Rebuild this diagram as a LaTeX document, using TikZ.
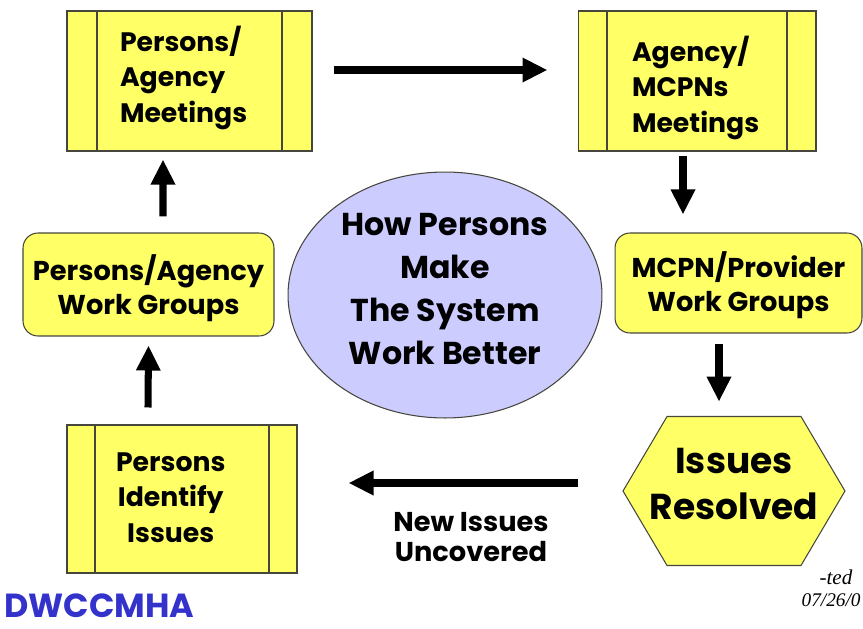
\documentclass[tikz,border=0pt]{standalone}
\usepackage{fontspec}
\setmainfont{Poppins}
\newfontfamily\notefont{Liberation Serif}
\usepackage{xcolor}
\usetikzlibrary{calc,arrows.meta,shapes.geometric}

\definecolor{boxyellow}{RGB}{255,255,102}
\definecolor{lavender}{RGB}{204,204,255}
\definecolor{edgegray}{RGB}{70,70,60}
\definecolor{dwblue}{RGB}{51,51,204}

% first baseline lifted by #1 above the node centre
\newcommand{\lifttext}[3]{\raisebox{#1}[0pt][0pt]{\parbox[t]{#2}{#3}}}

\tikzset{
	meetbox/.style={draw=edgegray, fill=boxyellow, line width=0.6pt, inner sep=0pt,
		font=\bfseries\fontsize{15.2}{20.3}\selectfont,
		path picture={\draw[edgegray, line width=0.6pt]
			([xshift=#1]path picture bounding box.north west) -- ([xshift=#1]path picture bounding box.south west)
			([xshift=-#1]path picture bounding box.north east) -- ([xshift=-#1]path picture bounding box.south east);}},
	meetbox/.default=0.58cm,
	groupbox/.style={draw=edgegray, fill=boxyellow, line width=0.6pt, rounded corners=0.3cm,
		inner sep=0pt, font=\bfseries\fontsize{15.5}{19.5}\selectfont},
	hexbox/.style={inner sep=0pt, font=\bfseries\fontsize{20.5}{26.5}\selectfont,
		path picture={\filldraw[fill=boxyellow, draw=edgegray, line width=0.6pt]
			([xshift=0.02cm]path picture bounding box.west) --
			([shift={(0.9cm,-0.02cm)}]path picture bounding box.north west) --
			([shift={(-0.9cm,-0.02cm)}]path picture bounding box.north east) --
			([xshift=-0.02cm]path picture bounding box.east) --
			([shift={(-0.9cm,0.02cm)}]path picture bounding box.south east) --
			([shift={(0.9cm,0.02cm)}]path picture bounding box.south west) -- cycle;}},
	bigarrow/.style={line width=4pt, -{Triangle[length=0.5cm,width=0.46cm]}},
}

\begin{document}
\begin{tikzpicture}[x=0.02cm,y=-0.02cm]
		\useasboundingbox (0,0) rectangle (863,629);
		
		% meetings and issues
		\node[meetbox=0.6cm, minimum width=4.9cm, minimum height=2.8cm] (pam) at (189.5,81) {\lifttext{0.6cm}{2.78cm}{\raggedright Persons/\\Agency\\Meetings}};
		\node[meetbox=0.58cm, minimum width=4.76cm, minimum height=2.8cm] (amm) at (697,81) {\lifttext{0.4cm}{2.6cm}{\raggedright Agency/\\MCPNs\\Meetings}};
		\node[meetbox=0.56cm, minimum width=4.6cm, minimum height=2.96cm] (pii) at (182,499) {\hspace*{-0.45cm}\lifttext{0.56cm}{2.4cm}{\centering Persons\\Identify\\Issues}};
		
		% work groups
		\node[groupbox, minimum width=5.02cm, minimum height=2.06cm] (pawg) at (148.5,284.5) {\lifttext{0.09cm}{4.8cm}{\centering Persons/Agency\\Work Groups}};
		\node[groupbox, minimum width=4.94cm, minimum height=2cm] (mpwg) at (738.5,283) {\lifttext{0.12cm}{4.8cm}{\centering MCPN/Provider\\Work Groups}};
		
		\node[hexbox, minimum width=4.48cm, minimum height=3.02cm] (res) at (734,491) {\lifttext{0.36cm}{4cm}{\centering Issues\\Resolved}};
		
		% centre
		\node[ellipse, draw=edgegray, fill=lavender, line width=0.6pt, inner sep=0pt,
			minimum width=6.28cm, minimum height=4.92cm,
			font=\bfseries\fontsize{18}{24.6}\selectfont] (core) at (445,295) {\lifttext{1.2cm}{4.3cm}{\centering How Persons\\Make\\The System\\Work Better}};
		
		\draw[bigarrow] ($(pam.east)+(21,-11)$) -- ($(amm.west)+(-30,-11)$);
		\draw[bigarrow] ($(amm.south)+(-14,4)$) -- ($(amm.south|-mpwg.north)+(-14,-18)$);
		\draw[bigarrow] ($(mpwg.south)+(-19.5,10)$) -- ($(mpwg.south|-res.north)+(-19.5,-13.5)$);
		\draw[bigarrow] ($(res.west)+(-44,-8)$) -- ($(pii.east)+(51,-16)$);
		\draw[bigarrow] ($(pii.north)+(-34,-17)$) -- ($(pawg.south)+(0,9)$);
		\draw[bigarrow] ($(pawg.north)+(14.5,-16)$) -- ($(pam.south)+(-26.5,8)$);
		
		\node[align=center, font=\bfseries\fontsize{15.5}{17}\selectfont] (uncov) at (471,537) {New Issues\\Uncovered};
		
		\node[anchor=west, inner sep=0pt, text=dwblue, font=\bfseries\fontsize{19}{20}\selectfont] (org) at (4,606) {DWCCMHA};
		\node[inner sep=0pt, font=\notefont\itshape\fontsize{12}{13}\selectfont] (ted) at (836,577) {-ted};
		\node[anchor=east, inner sep=0pt, font=\notefont\itshape\fontsize{11}{13}\selectfont] (date) at (861,600) {07/26/0};
\end{tikzpicture}
\end{document}
